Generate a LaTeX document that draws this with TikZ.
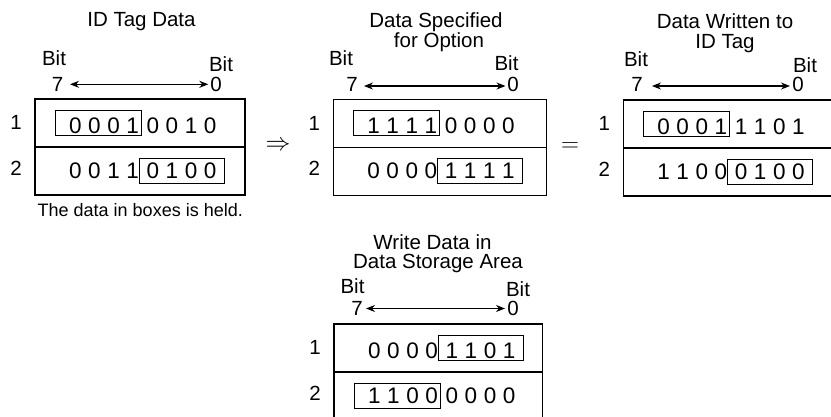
\documentclass[tikz,border=0pt]{standalone}
\usepackage{fontspec}
\setmainfont{Liberation Sans}
\usetikzlibrary{arrows.meta}
\newcommand{\dgt}[1]{\spaceskip=6.6pt\relax #1}
\tikzset{
  lbl/.style={inner sep=0pt, anchor=base, font=\fontsize{20.5}{21}\selectfont},
  digits/.style={inner sep=0pt, anchor=base, font=\fontsize{22.5}{23}\selectfont},
  rowlab/.style={inner sep=0pt, anchor=base, font=\fontsize{20.5}{21}\selectfont},
  outer/.style={line width=1.2pt},
  inner/.style={line width=0.9pt},
  dbl/.style={line width=1.1pt, {Stealth[length=9pt,width=7pt]}-{Stealth[length=9pt,width=7pt]}}
}
% #1 prefix, #2 box left, #3 box top, #4 width, #5-#8 digit groups, #9 mode
\newcommand{\bitgrid}[9]{%
  \draw[outer] (#2,#3) rectangle ++(#4,96);
  \draw[outer] (#2,#3+48) -- ++(#4,0);
  \node[rowlab] (#1-l1) at (#2-19,#3+30.8) {1};
  \node[rowlab] (#1-l2) at (#2-19,#3+76) {2};
  \node[digits] (#1-a) at (#2+69,#3+34.3) {\dgt{#5}};
  \node[digits] (#1-b) at (#2+146.5,#3+34.3) {\dgt{#6}};
  \node[digits] (#1-c) at (#2+69,#3+79.5) {\dgt{#7}};
  \node[digits] (#1-d) at (#2+146.5,#3+79.5) {\dgt{#8}};
  \ifnum#9=0
    \draw[inner] (#2+20.5,#3+11) rectangle (#2+106,#3+36);
    \draw[inner] (#2+104.5,#3+59.5) rectangle (#2+189,#3+84);
  \else
    \draw[inner] (#2+104.5,#3+11) rectangle (#2+189,#3+36);
    \draw[inner] (#2+20.5,#3+59.5) rectangle (#2+106,#3+84);
  \fi
}
\begin{document}
\begin{tikzpicture}[x=1pt,y=-1pt]
\useasboundingbox (0,0) rectangle (831,416);
\clip (0,0) rectangle (831,416);

% Panel 1
\node[lbl] (t1) at (141.5,26.7) {ID Tag Data};
\node[lbl] (p1bl) at (54,65.7) {Bit};
\node[lbl] (p1br) at (221,71) {Bit};
\node[lbl] (p1s) at (57.5,91) {7};
\node[lbl] (p1e) at (216,91) {0};
\coordinate (p1al) at (70,84.3);
\coordinate (p1ar) at (208.3,84.3);
\draw[dbl] (p1al) -- (p1ar);
\bitgrid{p1}{35}{99}{210}{0 0 0 1}{0 0 1 0}{0 0 1 1}{0 1 0 0}{0}
\node[inner sep=0pt, anchor=base west, font=\fontsize{18}{19}\selectfont] (cap) at (37.5,216.7) {The data in boxes is held.};

% implies
\node[inner sep=0pt, font=\fontsize{26}{26}\selectfont] (imp) at (278,146) {$\Rightarrow$};

% Panel 2
\node[lbl] (t2a) at (436,27.7) {Data Specified};
\node[lbl] (t2b) at (439,47.7) {for Option};
\node[lbl] (p2bl) at (341,65) {Bit};
\node[lbl] (p2br) at (506.5,70) {Bit};
\node[lbl] (p2s) at (352,91.5) {7};
\node[lbl] (p2e) at (513,91.5) {0};
\coordinate (p2al) at (364,86);
\coordinate (p2ar) at (505.5,86);
\draw[dbl] (p2al) -- (p2ar);
\bitgrid{p2}{333.3}{99.3}{213.4}{1 1 1 1}{0 0 0 0}{0 0 0 0}{1 1 1 1}{0}

% equals
\node[inner sep=0pt, font=\fontsize{26}{26}\selectfont] (eq) at (570,147) {$=$};

% Panel 3
\node[lbl] (t3a) at (725,28) {Data Written to};
\node[lbl] (t3b) at (725,48) {ID Tag};
\node[lbl] (p3bl) at (636,66) {Bit};
\node[lbl] (p3br) at (805,72) {Bit};
\node[lbl] (p3s) at (637,91) {7};
\node[lbl] (p3e) at (798,91) {0};
\coordinate (p3al) at (652,86);
\coordinate (p3ar) at (790,86);
\draw[dbl] (p3al) -- (p3ar);
\bitgrid{p3}{623.3}{100}{210}{0 0 0 1}{1 1 0 1}{1 1 0 0}{0 1 0 0}{0}

% Panel 4
\node[lbl] (t4a) at (432.5,249.3) {Write Data in};
\node[lbl] (t4b) at (438,268.3) {Data Storage Area};
\node[lbl] (p4bl) at (352.5,293.3) {Bit};
\node[lbl] (p4br) at (518,296) {Bit};
\node[lbl] (p4s) at (357,315) {7};
\node[lbl] (p4e) at (513,315) {0};
\coordinate (p4al) at (366,308.5);
\coordinate (p4ar) at (505,308.5);
\draw[dbl] (p4al) -- (p4ar);
\bitgrid{p4}{334}{324}{208.7}{0 0 0 0}{1 1 0 1}{1 1 0 0}{0 0 0 0}{1}
\end{tikzpicture}
\end{document}
